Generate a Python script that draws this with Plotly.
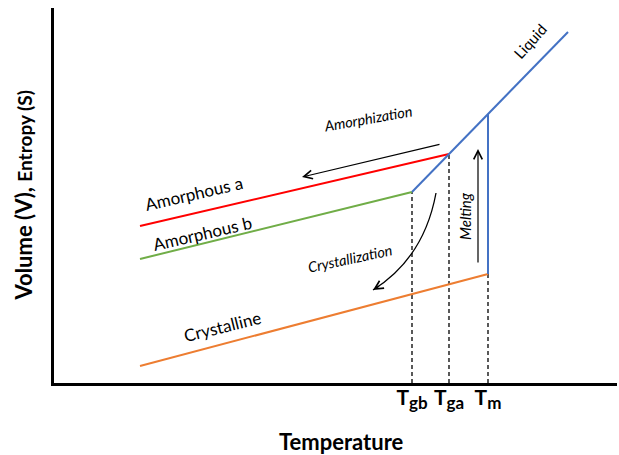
import plotly.graph_objects as go

# Schematic temperature / volume units (origin at the axes corner)
T_GB, T_GA, T_M = 358, 395, 434
T_START = 86
T_LIQ_END = 514

crystal_T = [T_START, T_M]
crystal_V = [17, 109]
amorph_b_T = [T_START, T_GB]
amorph_b_V = [124, 191]
amorph_a_T = [T_START, T_GA]
amorph_a_V = [157, 229]
liquid_T = [T_GB, T_GA, T_M, T_LIQ_END]
liquid_V = [191, 229, 269, 351]
melt_T = [T_M, T_M]
melt_V = [109, 269]

tick_vals = [T_GB, T_GA, T_M]
tick_subs = ["gb", "ga", "m"]
tick_text = [f"<b>T<sub><span style='font-size:17px'>{s}</span></sub></b>" for s in tick_subs]
drop_tops = [191, 229, 109]

# Process arrows: (tail, head)
amorphization_arrow = [(387, 239), (248, 206)]
melting_arrow = [(424, 119), (424, 234)]
crystallization_curve = [(382, 190), (370, 125), (319, 93)]

RED = "#FF0000"
GREEN = "#70AD47"
ORANGE = "#ED7D31"
BLUE = "#4472C4"
FONT = "Lato"

fig = go.Figure()

# dashed drop lines to the temperature axis
for t, top in zip(tick_vals, drop_tops):
    fig.add_trace(go.Scatter(x=[t, t], y=[0, top], mode="lines",
                             line=dict(color="black", width=1.3, dash="4px,3px"),
                             hoverinfo="skip"))

fig.add_trace(go.Scatter(x=crystal_T, y=crystal_V, mode="lines",
                         line=dict(color=ORANGE, width=2)))
fig.add_trace(go.Scatter(x=amorph_b_T, y=amorph_b_V, mode="lines",
                         line=dict(color=GREEN, width=2)))
fig.add_trace(go.Scatter(x=amorph_a_T, y=amorph_a_V, mode="lines",
                         line=dict(color=RED, width=2)))
fig.add_trace(go.Scatter(x=liquid_T, y=liquid_V, mode="lines",
                         line=dict(color=BLUE, width=2)))
fig.add_trace(go.Scatter(x=melt_T, y=melt_V, mode="lines",
                         line=dict(color=BLUE, width=2)))

# curved crystallization arrow body
(p0, p1, p2) = crystallization_curve
fig.add_shape(type="path", xref="x", yref="y",
              path=f"M {p0[0]},{p0[1]} Q {p1[0]},{p1[1]} {p2[0]},{p2[1]}",
              line=dict(color="black", width=1.3))

annotations = []


def arrow(tail, head):
    annotations.append(dict(x=head[0], y=head[1], ax=tail[0], ay=tail[1],
                            xref="x", yref="y", axref="x", ayref="y",
                            text="", showarrow=True, arrowhead=5,
                            arrowsize=1.4, arrowwidth=1.2, arrowcolor="black"))


arrow(*amorphization_arrow)
arrow(*melting_arrow)
# short arrow along the end tangent of the curve to place its head
dx, dy = p2[0] - p1[0], p2[1] - p1[1]
arrow((p2[0] - 0.15 * dx, p2[1] - 0.15 * dy), p2)


def label(text, x, y, angle, size, italic=False):
    annotations.append(dict(x=x, y=y, xref="x", yref="y", text=text,
                            showarrow=False, textangle=angle,
                            xanchor="center", yanchor="middle",
                            font=dict(family=FONT, size=size, color="black",
                                      style="italic" if italic else "normal")))


label("Amorphous a", 140, 190, -13, 17)
label("Amorphous b", 148, 150, -13, 17)
label("Crystalline", 168, 57, -14, 17)
label("Amorphization", 314, 265, -10, 14.5, italic=True)
label("Crystallization", 296, 125, -12, 14.5, italic=True)
label("Melting", 411, 167, -90, 15, italic=True)
label("Liquid", 476, 342, -48, 15)

annotations.append(dict(x=0.5115, y=-0.157, xref="paper", yref="paper",
                        xanchor="center", yanchor="middle",
                        text="<b>Temperature</b>", showarrow=False,
                        font=dict(family=FONT, size=22, color="black")))
annotations.append(dict(x=-0.055, y=0.5, xref="paper", yref="paper",
                        xanchor="center", yanchor="middle",
                        text="<b>Volume (V), <span style='font-size:19px'>Entropy (S)</span></b>",
                        showarrow=False, textangle=-90,
                        font=dict(family=FONT, size=22, color="black")))

fig.update_layout(
    width=619, height=455,
    margin=dict(l=54, r=2, t=8, b=72),
    plot_bgcolor="white", paper_bgcolor="white",
    showlegend=False,
    annotations=annotations,
    xaxis=dict(range=[0, 563], showgrid=False, zeroline=False,
               showline=True, linecolor="black", linewidth=2.5,
               tickvals=tick_vals, ticktext=tick_text, ticks="",
               ticklabelstandoff=-6,
               tickfont=dict(family=FONT, size=21, color="black"),
               fixedrange=True),
    yaxis=dict(range=[0, 375], showgrid=False, zeroline=False,
               showline=True, linecolor="black", linewidth=2.5,
               showticklabels=False, ticks="", fixedrange=True),
)

fig.write_html("out.html")
